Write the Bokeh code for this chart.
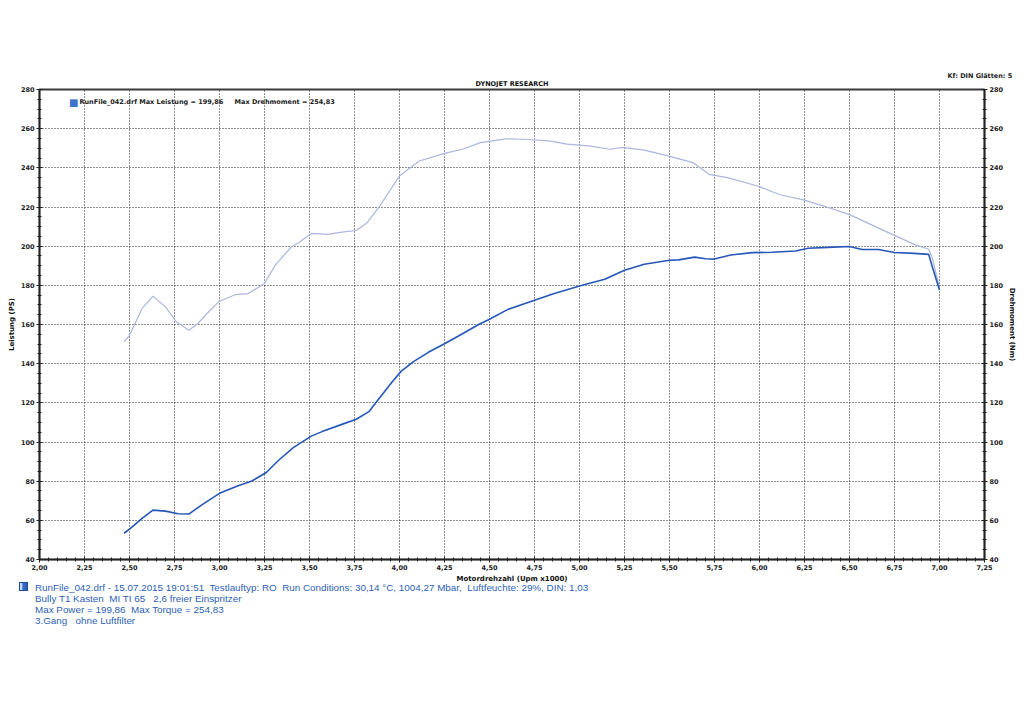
from bokeh.plotting import figure
from bokeh.models import (Range1d, LinearAxis, FixedTicker, Label, Title,
                          Div, CustomJSTickFormatter)
from bokeh.layouts import column
from bokeh.embed import file_html
from bokeh.resources import INLINE

# ---------------- data ----------------
power_rpm = [2.47, 2.50, 2.57, 2.63, 2.70, 2.77, 2.83, 2.90, 3.00, 3.10, 3.18, 3.26, 3.33, 3.41,
             3.51, 3.57, 3.68, 3.76, 3.83, 3.88, 3.96, 4.01, 4.08, 4.16, 4.25, 4.34, 4.44, 4.50,
             4.60, 4.75, 4.86, 5.00, 5.14, 5.25, 5.36, 5.50, 5.55, 5.64, 5.70, 5.75, 5.84, 5.96,
             6.07, 6.20, 6.27, 6.38, 6.50, 6.57, 6.66, 6.75, 6.86, 6.94, 6.96, 7.00]
power_ps = [53.4, 55.5, 61.0, 65.2, 64.7, 63.4, 63.2, 67.8, 73.8, 77.5, 80.1, 84.4, 90.8, 97.1,
            103.0, 105.3, 109.0, 111.6, 115.5, 121.4, 130.8, 136.2, 141.2, 145.8, 150.2, 154.8, 160.0, 162.7,
            167.6, 172.4, 175.8, 179.7, 183.1, 187.7, 190.8, 192.8, 193.0, 194.4, 193.6, 193.4, 195.5, 196.7,
            196.9, 197.5, 198.9, 199.4, 199.86, 198.3, 198.3, 196.8, 196.3, 195.8, 189.5, 177.6]

torque_rpm = [2.47, 2.50, 2.57, 2.63, 2.70, 2.76, 2.83, 2.88, 2.94, 3.00, 3.09, 3.16, 3.25, 3.31,
              3.40, 3.44, 3.51, 3.60, 3.68, 3.76, 3.82, 3.89, 4.00, 4.11, 4.25, 4.35, 4.45, 4.59,
              4.69, 4.83, 4.93, 5.05, 5.17, 5.24, 5.36, 5.48, 5.63, 5.72, 5.82, 5.99, 6.11, 6.25,
              6.37, 6.50, 6.62, 6.74, 6.86, 6.94, 6.96, 7.00]
torque_nm = [151.2, 154.5, 168.2, 174.5, 169.0, 161.4, 157.1, 160.5, 166.5, 171.9, 175.3, 175.8, 180.9, 190.3,
             199.7, 201.7, 206.5, 206.0, 207.2, 208.0, 212.0, 220.5, 235.8, 243.5, 247.4, 249.5, 252.9, 254.83,
             254.6, 253.8, 252.1, 251.2, 249.5, 250.4, 249.0, 246.4, 242.7, 236.7, 235.0, 230.7, 226.4, 223.5,
             220.1, 216.1, 211.0, 205.9, 200.9, 198.4, 194.0, 178.6]

x_ticks = [2.0 + 0.25 * i for i in range(22)]
y_ticks = list(range(40, 281, 20))

legend_text = "RunFile_042.drf Max Leistung = 199,86\u00a0\u00a0\u00a0\u00a0\u00a0Max Drehmoment = 254,83"
info_lines = [
    "RunFile_042.drf - 15.07.2015 19:01:51&nbsp; Testlauftyp: RO&nbsp; Run Conditions: 30,14 °C, 1004,27 Mbar,&nbsp; Luftfeuchte: 29%, DIN: 1,03",
    "Bully T1 Kasten&nbsp; MI TI 65 &nbsp; 2,6 freier Einspritzer",
    "Max Power = 199,86&nbsp; Max Torque = 254,83",
    "3.Gang &nbsp; ohne Luftfilter",
]

FONT = "DejaVu Sans"
POWER_C = "#2457b8"
TORQUE_C = "#aab6de"

p = figure(frame_width=945, frame_height=470,
           x_range=Range1d(2.0, 7.25), y_range=Range1d(40, 280),
           output_backend="svg", toolbar_location=None,
           min_border_left=39, min_border_right=29, min_border_top=89, min_border_bottom=20,
           background_fill_color="white", border_fill_color="white")
p.extra_y_ranges = {"tq": Range1d(40, 280)}

# outer title row (top right)
p.title.text = "Kf: DIN  Glätten: 5"
p.title.align = "right"
p.title.offset = -30
p.title.text_font = FONT
p.title.text_font_size = "6.5px"
p.title.text_font_style = "bold"
p.title.text_color = "#222222"
p.title.standoff = -6

# inner title row (centre)
p.add_layout(Title(text="DYNOJET RESEARCH", align="center",
                   text_font=FONT, text_font_size="6.5px", text_font_style="bold",
                   text_color="#111111", standoff=3), "above")

p.outline_line_color = "#3a3a3a"
p.outline_line_width = 2

fmt = CustomJSTickFormatter(code="return tick.toFixed(2).replace('.', ',');")

xa = p.xaxis[0]
xa.ticker = FixedTicker(ticks=x_ticks, minor_ticks=[2.0 + 0.05 * i for i in range(106)])
xa.formatter = fmt
xa.axis_label = "Motordrehzahl (Upm x1000)"

ya = p.yaxis[0]
ya.ticker = FixedTicker(ticks=y_ticks, minor_ticks=list(range(40, 281, 5)))
ya.axis_label = "Leistung (PS)"

ra = LinearAxis(y_range_name="tq", axis_label="Drehmoment (Nm)",
                ticker=FixedTicker(ticks=y_ticks, minor_ticks=list(range(40, 281, 5))))
p.add_layout(ra, "right")

for ax in [xa, ya, ra]:
    ax.axis_line_color = "#222222"
    ax.axis_line_width = 1.5
    ax.major_tick_in = 3
    ax.major_tick_out = 3
    ax.minor_tick_in = 2
    ax.minor_tick_out = 2
    ax.major_tick_line_color = "#222222"
    ax.minor_tick_line_color = "#222222"
    ax.major_label_text_font = FONT
    ax.major_label_text_font_size = "6.5px"
    ax.major_label_text_font_style = "bold"
    ax.major_label_text_color = "#222222"
    ax.major_label_standoff = 2
    ax.axis_label_text_font = FONT
    ax.axis_label_text_font_size = "7px"
    ax.axis_label_text_font_style = "bold"
    ax.axis_label_text_color = "#111111"
    ax.axis_label_standoff = 2

p.xgrid.ticker = FixedTicker(ticks=x_ticks)
p.ygrid.ticker = FixedTicker(ticks=y_ticks)
for g in [p.xgrid[0], p.ygrid[0]]:
    g.grid_line_color = "#222222"
    g.grid_line_dash = "1 2"
    g.grid_line_width = 1

p.line(torque_rpm, torque_nm, y_range_name="tq", line_color=TORQUE_C, line_width=1.2)
p.line(power_rpm, power_ps, line_color=POWER_C, line_width=1.6)

# legend (icon + text) inside the frame
p.add_layout(Label(x=2.19, y=273.4, text="\u25a0", text_align="center", text_baseline="middle",
                   text_font=FONT, text_font_size="10px", text_color="#3d72cc"))
p.add_layout(Label(x=2.222, y=273.4, text=legend_text, text_align="left", text_baseline="middle",
                   text_font=FONT, text_font_size="6.5px", text_font_style="bold",
                   text_color="#222222"))

icon = ('<span style="position:absolute; left:19px; top:0px; width:9px; height:9px; '
        'border:1px solid #1d4da3; background:linear-gradient(90deg,#c9d8f2 0%,#c9d8f2 35%,#3a70c8 36%,#2a5cb5 100%);"></span>')
html = ('<div style="position:relative; top:-3px; width:1000px; padding-left:35px; font-family:\'Liberation Sans\', Arial, sans-serif; '
        'font-size:9.85px; line-height:11px; color:#2d5fb5;">' + icon +
        "<br>".join(info_lines) + "</div>")
div = Div(text=html, width=1016, height=48, margin=0)

layout = column(p, div, spacing=0)
open("out.html", "w").write(file_html(layout, INLINE))
